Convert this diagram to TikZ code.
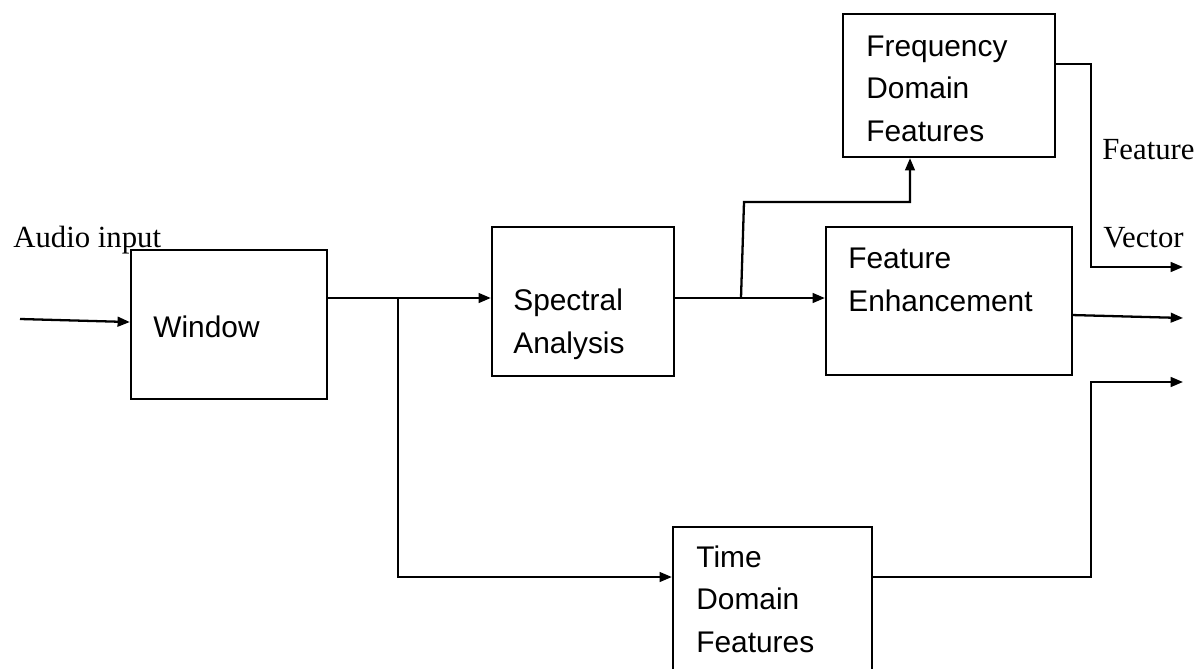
\documentclass[tikz,border=0pt]{standalone}
\usepackage{fontspec}
\setmainfont{Liberation Serif}
\newfontfamily\boxfont{Liberation Sans}
\usetikzlibrary{arrows.meta}
\begin{document}
\begin{tikzpicture}[x=0.02cm,y=-0.02cm,
  blk/.style={draw,line width=1.3pt,inner sep=0pt},
  btxt/.style={anchor=base west,inner sep=0pt,align=left,font=\boxfont\fontsize{17}{24}\selectfont},
  ltxt/.style={anchor=base west,inner sep=0pt,font=\fontsize{17.5}{21}\selectfont},
  conn/.style={line width=1.3pt},
  arr/.style={conn,-{Triangle[length=7pt,width=5.5pt]}}]
\useasboundingbox (0,0) rectangle (1200,669);
% boxes
\node[blk,minimum width=3.92cm,minimum height=2.98cm] (win) at (229,324.5) {};
\node[blk,minimum width=3.64cm,minimum height=2.98cm] (spec) at (583,301.5) {};
\node[blk,minimum width=4.92cm,minimum height=2.96cm] (fe) at (949,301) {};
\node[blk,minimum width=4.24cm,minimum height=2.86cm] (fdf) at (949,85.5) {};
\node[blk,minimum width=3.98cm,minimum height=3.86cm] (tdf) at (772.5,623.5) {};
% box texts (anchored at the baseline of the last line)
\node[btxt] (twin) at (153,337) {Window};
\node[btxt] (tspec) at (513,353) {Spectral\\Analysis};
\node[btxt] (tfe) at (848,311) {Feature\\Enhancement};
\node[btxt] (tfdf) at (866,141) {Frequency\\Domain\\Features};
\node[btxt] (ttdf) at (696,652) {Time\\Domain\\Features};
% labels
\node[ltxt] (laudio) at (13,247) {Audio input};
\node[ltxt] (lfeat) at (1102,159) {Feature};
\node[ltxt] (lvec) at (1103,247) {Vector};
% coordinates
\coordinate (in) at (20,319);
\coordinate (j1) at (398,298);
\coordinate (t1) at (398,577);
\coordinate (j2) at (741,298);
\coordinate (k1) at (744,202);
\coordinate (k2) at (910,202);
\coordinate (o0) at (1055,64);
\coordinate (o1) at (1091,64);
\coordinate (o2) at (1091,267);
\coordinate (e1) at (1183,267);
\coordinate (e2) at (1183,318);
\coordinate (q1) at (1091,577);
\coordinate (q2) at (1091,382);
\coordinate (e3) at (1183,382);
% connectors
\draw[arr] (in) -- ([yshift=1.4pt]win.west);
\draw[arr] (win.east |- j1) -- (spec.west |- j1);
\draw[arr] (j1) -- (t1) -- (tdf.west |- t1);
\draw[arr] (spec.east |- j2) -- (fe.west |- j2);
\draw[arr] (j2) -- (k1) -- (k2) -- (k2 |- fdf.south);
\draw[arr] (fdf.east |- o0) -- (o1) -- (o2) -- (e1);
\draw[arr] ([yshift=-8pt]fe.east) -- (e2);
\draw[arr] (tdf.east |- q1) -- (q1) -- (q2) -- (e3);
\end{tikzpicture}
\end{document}
